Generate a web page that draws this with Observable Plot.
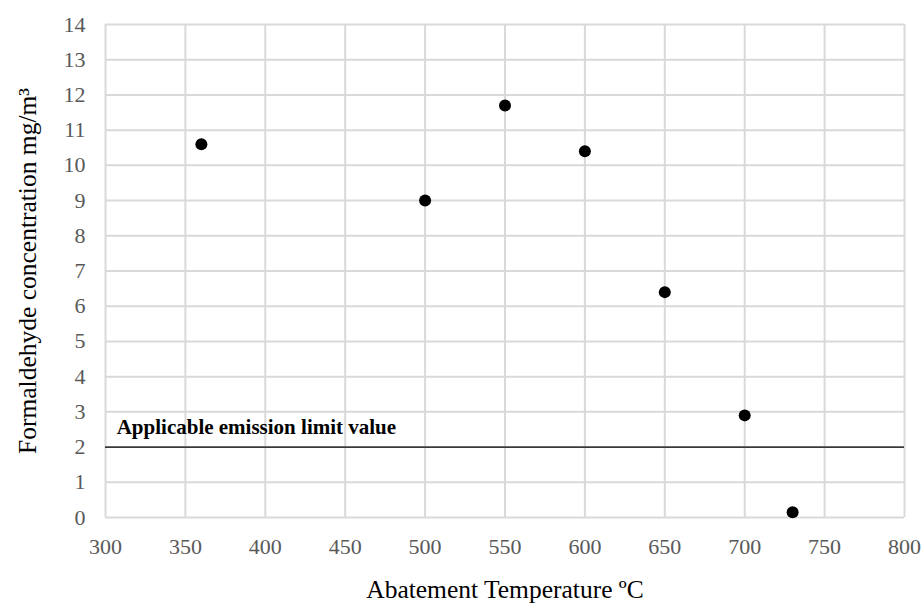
<!DOCTYPE html>
<html><head><meta charset="utf-8">
<script src="https://cdn.jsdelivr.net/npm/d3@7"></script>
<script src="https://cdn.jsdelivr.net/npm/@observablehq/plot@0.6"></script>
<style>
body{margin:0;background:#fff;}
svg, svg text{font-family:"Liberation Serif","Times New Roman",serif !important;}
</style>
</head><body><div id="chart"></div>
<script>
const temperatures = [360, 500, 550, 600, 650, 700, 730];
const concentrations = [10.6, 9.0, 11.7, 10.4, 6.4, 2.9, 0.15];
const xTicks = [300, 350, 400, 450, 500, 550, 600, 650, 700, 750, 800];
const yTicks = [0,1,2,3,4,5,6,7,8,9,10,11,12,13,14];
const limitValue = 2;
const limitLabel = "Applicable emission limit value";
const xTitle = "Abatement Temperature ºC";
const yTitle = "Formaldehyde concentration mg/m³";

const data = temperatures.map((t, i) => ({t, c: concentrations[i]}));
const serif = "'Liberation Serif', serif";

const chart = Plot.plot({
  width: 923, height: 610,
  marginLeft: 105, marginRight: 19, marginTop: 24, marginBottom: 93,
  style: {fontFamily: serif, background: "#fff"},
  x: {domain: [300, 800]},
  y: {domain: [0, 14]},
  marks: [
    Plot.ruleX(xTicks, {stroke: "#d9d9d9", strokeWidth: 2, strokeOpacity: 1}),
    Plot.ruleY(yTicks, {stroke: "#d9d9d9", strokeWidth: 2, strokeOpacity: 1}),
    Plot.axisX(xTicks, {tickSize: 0, tickPadding: 21, fontSize: 22, fill: "#595959", fontFamily: serif,
      label: xTitle, labelAnchor: "center", labelOffset: 80, labelArrow: "none"}),
    Plot.axisY(yTicks, {tickSize: 0, tickPadding: 20, fontSize: 22, fill: "#595959", fontFamily: serif,
      label: yTitle, labelAnchor: "center", labelOffset: 88, labelArrow: "none"}),
    Plot.ruleY([limitValue], {stroke: "#000", strokeWidth: 1.2}),
    Plot.text([limitLabel], {x: 307, y: limitValue, dy: -20, textAnchor: "start", fontWeight: "bold", fontSize: 21, fill: "#000"}),
    Plot.dot(data, {x: "t", y: "c", r: 6, fill: "#000", stroke: "none"})
  ]
});
chart.querySelectorAll('[aria-label="x-axis label"] text, [aria-label="y-axis label"] text, [aria-label="x-axis label"], [aria-label="y-axis label"]').forEach(t => {
  t.setAttribute("font-size", "25.5"); t.setAttribute("fill", "#000");
});
document.getElementById("chart").append(chart);
</script></body></html>
